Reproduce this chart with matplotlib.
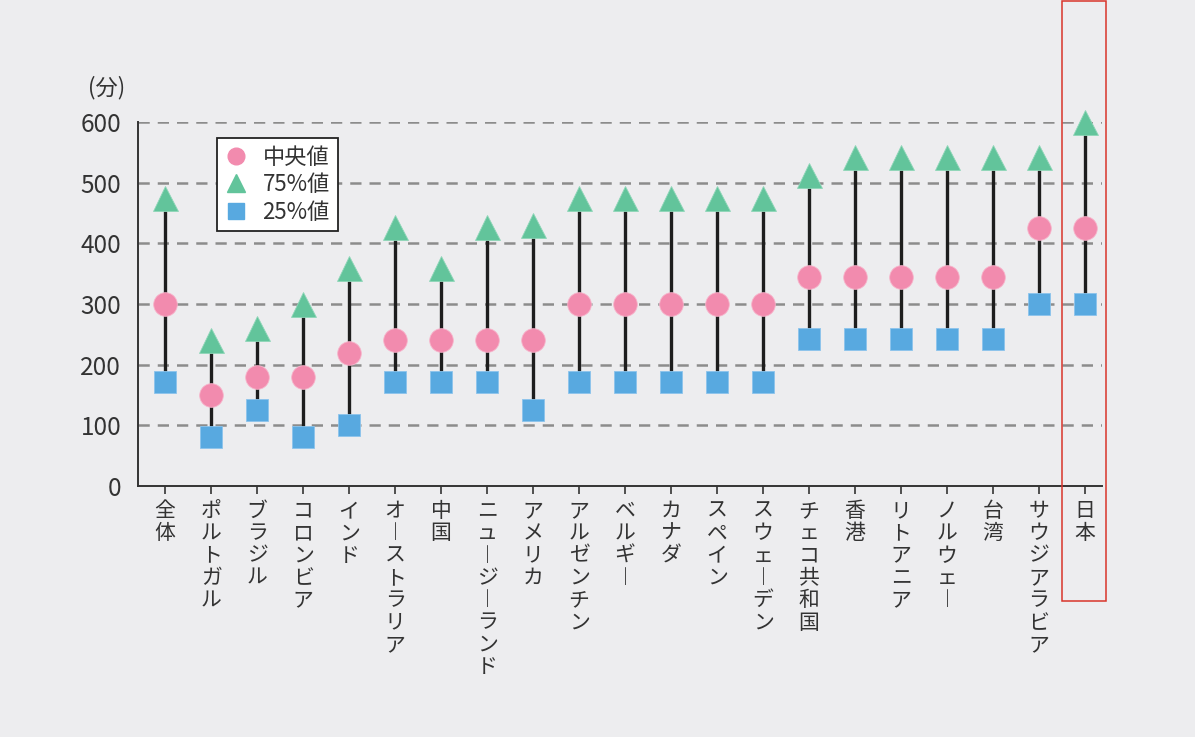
import matplotlib
matplotlib.use("Agg")
import matplotlib.pyplot as plt
from matplotlib.lines import Line2D
from matplotlib.patches import Rectangle
import matplotlib.transforms as mtransforms

plt.rcParams['font.family'] = ['Noto Sans CJK JP', 'DejaVu Sans']

# data (minutes)
categories = ['全体', 'ポルトガル', 'ブラジル', 'コロンビア', 'インド', 'オーストラリア', '中国',
              'ニュージーランド', 'アメリカ', 'アルゼンチン', 'ベルギー', 'カナダ', 'スペイン',
              'スウェーデン', 'チェコ共和国', '香港', 'リトアニア', 'ノルウェー', '台湾',
              'サウジアラビア', '日本']
median = [300, 150, 180, 180, 220, 240, 240, 240, 240, 300, 300, 300, 300, 300,
          345, 345, 345, 345, 345, 425, 425]
q75 = [475, 240, 260, 300, 360, 427, 360, 427, 430, 475, 475, 475, 475, 475,
       513, 543, 543, 543, 543, 543, 600]
q25 = [172, 80, 125, 80, 100, 172, 172, 172, 125, 172, 172, 172, 172, 172,
       243, 243, 243, 243, 243, 300, 300]
yticks = [0, 100, 200, 300, 400, 500, 600]
legend_labels = ['中央値', '75%値', '25%値']
unit_label = '(分)'
highlight = '日本'

bg = '#EDEDEF'
pink = '#F28BAE'
green = '#62C49B'
blue = '#58A9E0'
txt = '#333333'

fig = plt.figure(figsize=(11.95, 7.37), dpi=100, facecolor=bg)
ax = fig.add_axes([138 / 1195, 1 - 486 / 737, (1102 - 138) / 1195, (486 - 122) / 737])
ax.set_facecolor(bg)

x = list(range(len(categories)))

ax.vlines(x, q25, q75, color='#1e1e1e', lw=2.4, zorder=2)
ax.plot(x, q75, ls='none', marker='^', ms=18, color=green, mec='#8fd6b8', mew=0.6, zorder=3, clip_on=False)
ax.plot(x, median, ls='none', marker='o', ms=17, color=pink, mec='#f7b3ca', mew=0.6, zorder=3, clip_on=False)
ax.plot(x, q25, ls='none', marker='s', ms=15.5, color=blue, mec='#8cc4ec', mew=0.6, zorder=3, clip_on=False)

ax.set_xlim(-0.59, len(categories) - 1 + 0.37)
ax.set_ylim(0, 600)
ax.set_yticks(yticks)
ax.set_yticklabels([str(v) for v in yticks], fontsize=17.5, color=txt)
ax.tick_params(axis='y', length=0, pad=12)

for v in yticks[1:]:
    ax.axhline(v, color='#8c8c8c', lw=1.8, ls=(0, (4.5, 3.2)), zorder=1)

# vertical japanese labels
def vertical(s):
    return '\n'.join('︱' if ch == 'ー' else ch for ch in s)

ax.set_xticks(x)
ax.set_xticklabels([vertical(c) for c in categories], fontsize=15, color=txt,
                   va='top', linespacing=1.02)
ax.tick_params(axis='x', length=6, width=1.2, color='#333333', pad=4)

for s in ['top', 'right']:
    ax.spines[s].set_visible(False)
for s in ['left', 'bottom']:
    ax.spines[s].set_color('#333333')
    ax.spines[s].set_linewidth(1.4)

fig.text(88 / 1195, 1 - 88 / 737, unit_label, fontsize=16, color=txt, va='center', ha='left')

handles = [
    Line2D([], [], ls='none', marker='o', ms=12, color=pink),
    Line2D([], [], ls='none', marker='^', ms=13.5, color=green),
    Line2D([], [], ls='none', marker='s', ms=11, color=blue),
]
leg = ax.legend(handles, legend_labels, loc='upper left',
                bbox_to_anchor=(217 / 1195, 1 - 138 / 737), bbox_transform=fig.transFigure,
                fontsize=16, frameon=True, fancybox=False, framealpha=1,
                edgecolor='#222222', handlelength=1.0, handletextpad=0.7,
                labelspacing=0.2, borderpad=0.35, borderaxespad=0)
leg.get_frame().set_linewidth(1.3)
for t in leg.get_texts():
    t.set_color(txt)

# red box around Japan
trans = mtransforms.blended_transform_factory(ax.transData, fig.transFigure)
i = categories.index(highlight)
rect = Rectangle((i - 0.5, 1 - 601 / 737), 0.95, 601 / 737 - 0.002, transform=trans,
                 fill=False, edgecolor='#d9342b', lw=1.1, clip_on=False)
fig.patches.append(rect)

fig.savefig('out.png', dpi=100, facecolor=bg)
